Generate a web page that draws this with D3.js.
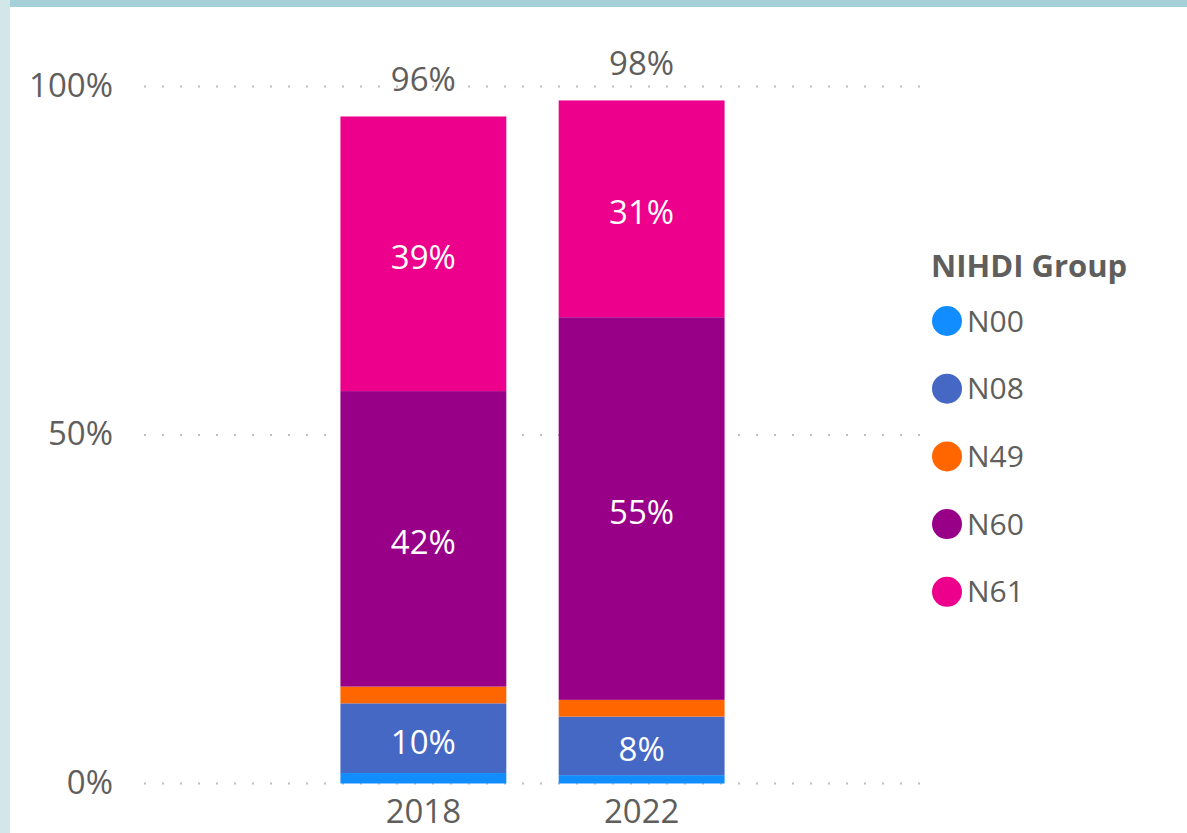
<!DOCTYPE html>
<html>
<head>
<meta charset="utf-8">
<script src="https://cdn.jsdelivr.net/npm/d3@7"></script>
<style>
  html, body { margin: 0; padding: 0; background: #fff; }
  text { font-family: "Open Sans", "Noto Sans", sans-serif; }
</style>
</head>
<body>
<div id="chart"></div>
<script>
// chart data (percent of total)
const years = ["2018", "2022"];
const groups = ["N00", "N08", "N49", "N60", "N61"];
const n00 = [1.5, 1.2];
const n08 = [10.0, 8.4];
const n49 = [2.4, 2.4];
const n60 = [42.4, 54.9];
const n61 = [39.4, 31.1];
const labelledGroups = ["N08", "N60", "N61"];
const yTicks = [0, 50, 100];
const legendTitle = "NIHDI Group";

const colours = {
    N00: "#118DFF",
    N08: "#4668C5",
    N49: "#FF6600",
    N60: "#990088",
    N61: "#EC008C",
};

function drawChart() {
    const width = 1187, height = 833;
    const textColour = "#605E5C";

    const svg = d3.select("#chart")
        .append("svg")
        .attr("width", width)
        .attr("height", height)
        .attr("viewBox", `0 0 ${width} ${height}`);

    // frame strips of the report page
    svg.append("rect").attr("x", 0).attr("y", 0).attr("width", width).attr("height", 7).attr("fill", "#A5D0D8");
    svg.append("rect").attr("x", 0).attr("y", 0).attr("width", 10).attr("height", height).attr("fill", "#D1E7EA");

    const plot = { left: 144, right: 921, top: 86.5, bottom: 783.5 };

    const rows = years.map((yr, i) => ({
        year: yr,
        N00: n00[i], N08: n08[i], N49: n49[i], N60: n60[i], N61: n61[i],
    }));

    const x = d3.scaleBand()
        .domain(years)
        .range([plot.left, plot.right])
        .paddingInner(0.24)
        .paddingOuter(0.9);

    const y = d3.scaleLinear()
        .domain([0, 100])
        .range([plot.bottom, plot.top]);

    // dotted gridlines
    svg.append("g")
        .selectAll("line")
        .data(yTicks)
        .enter()
        .append("line")
            .attr("x1", plot.left)
            .attr("x2", plot.right)
            .attr("y1", d => y(d))
            .attr("y2", d => y(d))
            .attr("stroke", "#BEBEBE")
            .attr("stroke-width", 2)
            .style("stroke-dasharray", "2, 16");

    // y axis labels
    const yAxis = svg.append("g")
        .attr("transform", `translate(113,0)`)
        .call(d3.axisLeft(y).tickValues(yTicks).tickSize(0).tickPadding(0).tickFormat(d => d + "%"));
    yAxis.select(".domain").remove();
    yAxis.selectAll("text")
        .attr("fill", textColour)
        .style("font-size", "33px")
        .style("font-family", "'Open Sans', sans-serif")
        .attr("dy", "0.3em");

    // x axis labels
    const xAxis = svg.append("g")
        .attr("transform", `translate(0,${plot.bottom})`)
        .call(d3.axisBottom(x).tickSize(0).tickPadding(0));
    xAxis.select(".domain").remove();
    xAxis.selectAll("text")
        .attr("fill", textColour)
        .style("font-size", "33px")
        .style("font-family", "'Open Sans', sans-serif")
        .attr("y", 16);

    // stacked bars
    const series = d3.stack().keys(groups)(rows);

    const layer = svg.append("g")
        .selectAll("g")
        .data(series)
        .enter()
        .append("g")
        .attr("fill", d => colours[d.key]);

    layer.selectAll("rect")
        .data(d => d)
        .enter()
        .append("rect")
            .attr("x", d => x(d.data.year))
            .attr("width", x.bandwidth())
            .attr("y", d => y(d[1]))
            .attr("height", d => y(d[0]) - y(d[1]));

    // segment labels
    series.filter(s => labelledGroups.includes(s.key)).forEach(s => {
        svg.append("g")
            .selectAll("text")
            .data(s)
            .enter()
            .append("text")
                .attr("x", d => x(d.data.year) + x.bandwidth() / 2)
                .attr("y", d => (y(d[0]) + y(d[1])) / 2 + 4)
                .attr("dy", "0.35em")
                .attr("text-anchor", "middle")
                .attr("fill", "white")
                .style("font-size", "33px")
                .text(d => Math.round(d[1] - d[0]) + "%");
    });

    // totals above bars
    svg.append("g")
        .selectAll("text")
        .data(rows)
        .enter()
        .append("text")
            .attr("x", d => x(d.year) + x.bandwidth() / 2)
            .attr("y", d => y(d3.sum(groups, g => d[g])) - 37)
            .attr("dy", "0.35em")
            .attr("text-anchor", "middle")
            .attr("fill", textColour)
            .style("font-size", "33px")
            .text(d => Math.round(d3.sum(groups, g => d[g])) + "%");

    // legend
    const legend = svg.append("g").attr("transform", "translate(931,0)");
    legend.append("text")
        .attr("x", 0)
        .attr("y", 266)
        .attr("dy", "0.35em")
        .attr("fill", textColour)
        .style("font-size", "31px")
        .style("font-weight", "bold")
        .text(legendTitle);

    legend.selectAll("circle")
        .data(groups)
        .enter()
        .append("circle")
            .attr("cx", 16)
            .attr("cy", (d, i) => 321 + i * 67.7)
            .attr("r", 15)
            .attr("fill", d => colours[d]);

    legend.selectAll("text.item")
        .data(groups)
        .enter()
        .append("text")
            .attr("class", "item")
            .attr("x", 36)
            .attr("y", (d, i) => 321 + i * 67.7)
            .attr("dy", "0.35em")
            .attr("fill", textColour)
            .style("font-size", "30px")
            .text(d => d);
}

drawChart();
</script>
</body>
</html>
